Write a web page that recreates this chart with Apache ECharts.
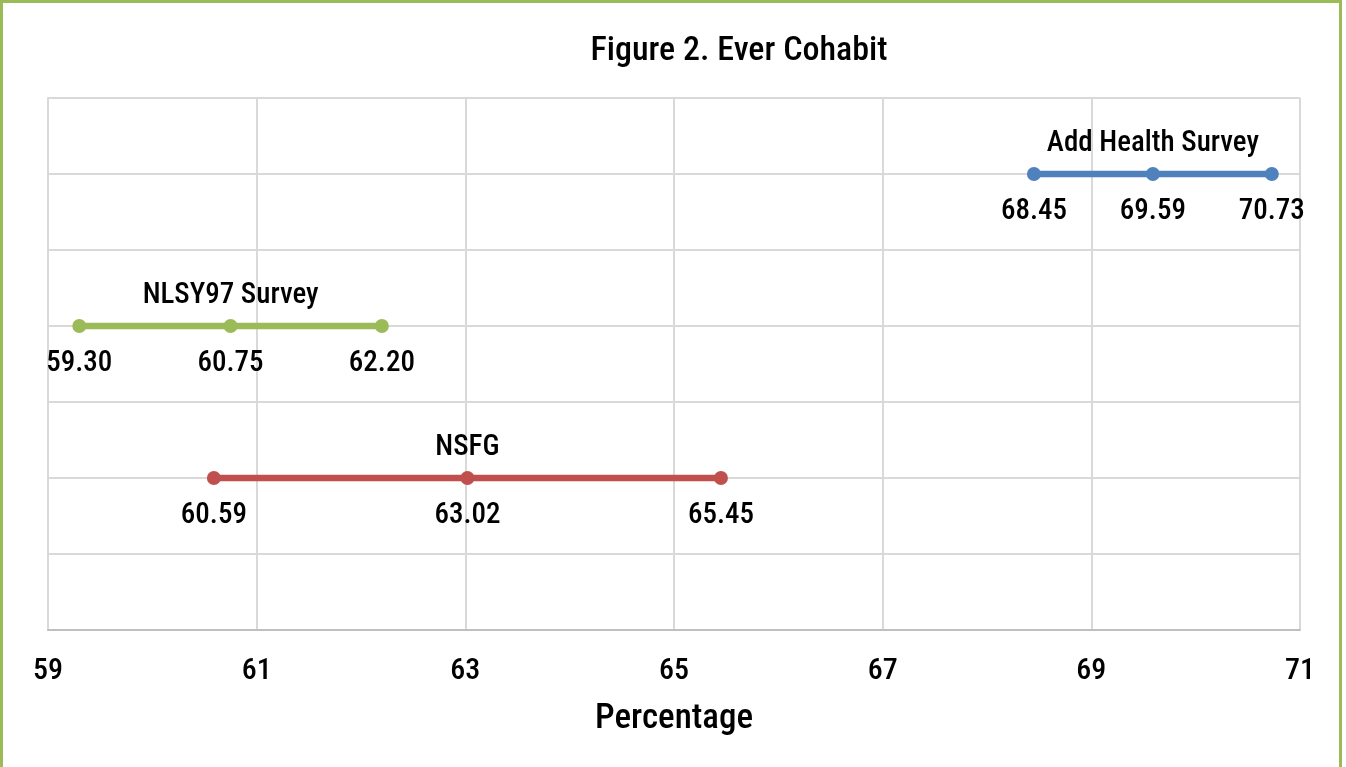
<!DOCTYPE html>
<html><head><meta charset="utf-8">
<script src="https://cdn.jsdelivr.net/npm/echarts@6/dist/echarts.min.js"></script>
<style>
html,body{margin:0;padding:0;background:#fff;}
#frame{position:absolute;left:0;top:0;width:1342px;height:767px;border-left:3px solid #9bbb59;border-top:3px solid #9bbb59;border-right:3px solid #9bbb59;box-sizing:border-box;}
#c{position:absolute;left:0;top:0;width:1346px;height:767px;}
</style></head>
<body><div id="c"></div><div id="frame"></div>
<script>
var seriesNames = ['Add Health Survey', 'NLSY97 Survey', 'NSFG'];
var rowPositions = [3, 2, 1];
var addHealth = [68.45, 69.59, 70.73];
var nlsy97 = [59.30, 60.75, 62.20];
var nsfg = [60.59, 63.02, 65.45];
var colors = ['#4f81bd', '#9bbb59', '#c0504d'];
var xTicks = [59, 61, 63, 65, 67, 69, 71];

var allValues = [addHealth, nlsy97, nsfg];
var FONT = '"Liberation Sans Narrow", "Roboto Condensed", "Arial Narrow", sans-serif';
var series = [];
allValues.forEach(function (vals, i) {
  series.push({
    type: 'line', name: seriesNames[i],
    data: vals.map(function (v) { return [v, rowPositions[i]]; }),
    symbol: 'circle', symbolSize: 14,
    lineStyle: { color: colors[i], width: 6.5 },
    itemStyle: { color: colors[i] },
    label: { show: true, position: 'bottom', distance: 16, color: '#000', fontSize: 29, fontWeight: 500, fontFamily: FONT,
      formatter: function (p) { return p.value[0].toFixed(2); } },
    z: 3
  });
  series.push({
    type: 'scatter', name: seriesNames[i] + ' label',
    data: [[vals[1], rowPositions[i]]],
    symbolSize: 0,
    itemStyle: { opacity: 1 },
    label: { show: true, position: 'top', distance: 16, color: '#000', opacity: 1, fontSize: 29, fontWeight: 500, fontFamily: FONT,
      formatter: seriesNames[i] },
    silent: true, z: 4
  });
});

var chart = echarts.init(document.getElementById('c'));
chart.setOption({
  animation: false,
  title: { text: 'Figure 2. Ever Cohabit', left: 734, top: 29, textAlign: 'center',
    textStyle: { fontFamily: FONT, fontSize: 34, fontWeight: 500, color: '#000' } },
  grid: { left: 48, right: 46, top: 98, bottom: 137 },
  xAxis: {
    type: 'value', min: 59, max: 71, interval: 2,
    name: 'Percentage', nameLocation: 'middle', nameGap: 72,
    nameTextStyle: { fontFamily: FONT, fontSize: 35, fontWeight: 500, color: '#000' },
    axisLine: { show: true, lineStyle: { color: '#bfbfbf', width: 2 } },
    axisTick: { show: false },
    axisLabel: { fontFamily: FONT, fontSize: 30, fontWeight: 500, color: '#000', margin: 26,
      formatter: function (v) { return xTicks.indexOf(v) >= 0 ? String(v) : ''; } },
    splitLine: { show: true, lineStyle: { color: '#d9d9d9', width: 2 } }
  },
  yAxis: {
    type: 'value', min: 0, max: 3.5, interval: 0.5,
    axisLine: { show: true, lineStyle: { color: '#d9d9d9', width: 2 } },
    axisTick: { show: false },
    axisLabel: { show: false },
    splitLine: { show: true, lineStyle: { color: '#d9d9d9', width: 2 } }
  },
  series: series
});
</script></body></html>
